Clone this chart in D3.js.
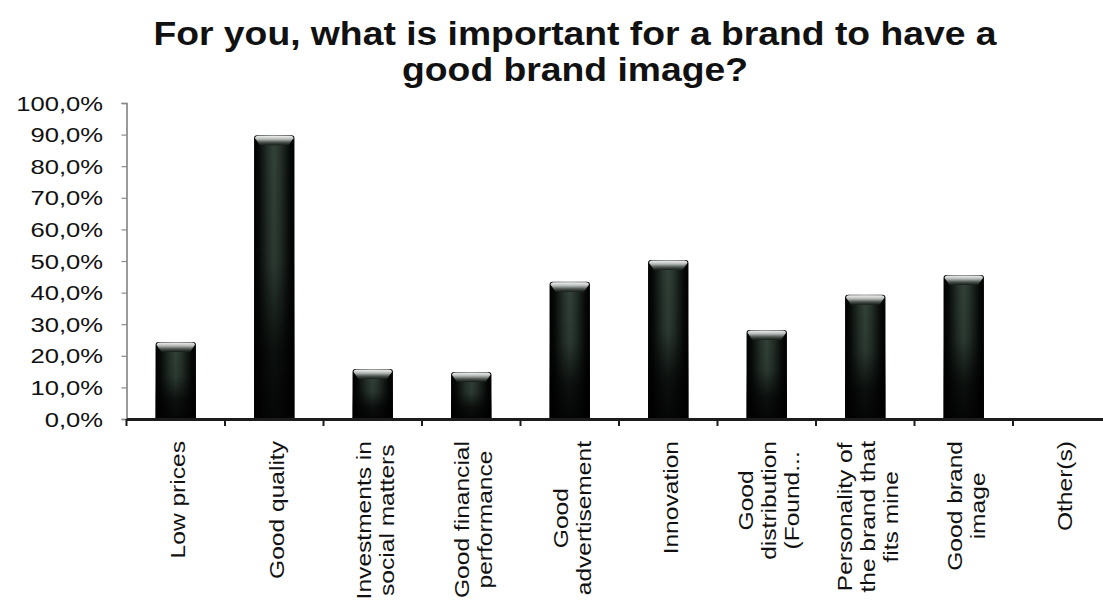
<!DOCTYPE html>
<html>
<head>
<meta charset="utf-8">
<script src="https://cdn.jsdelivr.net/npm/d3@7"></script>
<style>
  html, body { margin: 0; padding: 0; background: #fff; }
  svg { display: block; }
  text { font-family: "Liberation Sans", Arial, sans-serif; fill: #111; }
</style>
</head>
<body>
<svg id="chart" width="1103" height="613"></svg>
<script>
// Survey answers: share of respondents naming each item
const categories = [
  "Low prices", "Good quality", "Investments in social matters",
  "Good financial performance", "Good advertisement", "Innovation",
  "Good distribution (Found...", "Personality of the brand that fits mine",
  "Good brand image", "Other(s)"
];
const labelLines = [
  ["Low prices"], ["Good quality"], ["Investments in", "social matters"],
  ["Good financial", "performance"], ["Good", "advertisement"], ["Innovation"],
  ["Good", "distribution", "(Found..."], ["Personality of", "the brand that", "fits mine"],
  ["Good brand", "image"], ["Other(s)"]
];
const values = [24.4, 89.8, 15.8, 14.9, 43.4, 50.3, 28.2, 39.3, 45.6, 0];
const yTicks = [0, 10, 20, 30, 40, 50, 60, 70, 80, 90, 100];
const titleLines = ["For you, what is important for a brand to have a", "good brand image?"];

const svg = d3.select("#chart");
const plot = { left: 126.5, right: 1111.5, top: 103, bottom: 419 };

const x = d3.scaleBand()
  .domain(categories)
  .range([plot.left, plot.right])
  .paddingInner(0.59)
  .paddingOuter(0.295);

const y = d3.scaleLinear().domain([0, 100]).range([plot.bottom, plot.top]);

// Gradients for the shaded column look
const defs = svg.append("defs");
const body = defs.append("linearGradient").attr("id", "barBody")
  .attr("x1", "0").attr("x2", "1").attr("y1", "0").attr("y2", "0");
[["0%", "#000"], ["12%", "#070a08"], ["35%", "#26322b"], ["50%", "#33433a"],
 ["65%", "#26322b"], ["88%", "#070a08"], ["100%", "#000"]]
  .forEach(([o, c]) => body.append("stop").attr("offset", o).attr("stop-color", c));

const shade = defs.append("linearGradient").attr("id", "barShade")
  .attr("x1", "0").attr("x2", "0").attr("y1", "0").attr("y2", "1");
[["0%", "#000", 0], ["45%", "#000", 0.15], ["75%", "#000", 0.75], ["100%", "#000", 0.9]]
  .forEach(([o, c, a]) => shade.append("stop").attr("offset", o)
    .attr("stop-color", c).attr("stop-opacity", a));

const cap = defs.append("linearGradient").attr("id", "barCap")
  .attr("x1", "0").attr("x2", "0").attr("y1", "0").attr("y2", "1");
[["0%", "#f2f2f2"], ["35%", "#b8bcb9"], ["70%", "#4a524d"], ["100%", "#151a17"]]
  .forEach(([o, c]) => cap.append("stop").attr("offset", o).attr("stop-color", c));

// Title
svg.append("g").selectAll("text")
  .data(titleLines)
  .join("text")
  .attr("transform", (d, i) => `translate(575, ${45 + i * 36}) scale(1.13, 1)`)
  .attr("text-anchor", "middle")
  .attr("font-size", 33)
  .attr("font-weight", "bold")
  .text(d => d);

// Y axis
const yAxis = svg.append("g")
  .attr("transform", `translate(${plot.left}, 0)`)
  .call(d3.axisLeft(y).tickValues(yTicks).tickSize(5).tickFormat(() => ""));
yAxis.select(".domain").attr("stroke", "#7a7a7a").attr("stroke-width", 1.5);
yAxis.selectAll(".tick line").attr("stroke", "#8a8a8a").attr("stroke-width", 1.2);

svg.append("g").selectAll("g")
  .data(yTicks)
  .join("g")
  .attr("transform", d => `translate(103, ${y(d)}) scale(1.22, 1)`)
  .append("text")
  .attr("text-anchor", "end")
  .attr("dy", "0.36em")
  .attr("font-size", 21)
  .attr("fill", "#222")
  .text(d => d3.format(".1f")(d).replace(".", ",") + "%");

// Bars
const bars = svg.append("g").selectAll("g")
  .data(categories.map((c, i) => ({ c, v: values[i] })).filter(d => d.v > 0))
  .join("g");

bars.append("path")
  .attr("d", d => {
    const x0 = x(d.c), w = x.bandwidth(), y0 = y(d.v), yb = y(0), r = 3;
    return `M${x0},${yb} L${x0},${y0 + r} Q${x0},${y0} ${x0 + r},${y0} L${x0 + w - r},${y0} Q${x0 + w},${y0} ${x0 + w},${y0 + r} L${x0 + w},${yb} Z`;
  })
  .attr("fill", "url(#barBody)");

bars.append("rect")
  .attr("x", d => x(d.c))
  .attr("y", d => y(d.v))
  .attr("width", x.bandwidth())
  .attr("height", d => y(0) - y(d.v))
  .attr("fill", "url(#barShade)");

bars.append("path")
  .attr("d", d => {
    const x0 = x(d.c), w = x.bandwidth(), y0 = y(d.v), r = 3;
    return `M${x0 + 1},${y0 + r} Q${x0 + 1},${y0 + 0.5} ${x0 + r + 1},${y0 + 0.5} L${x0 + w - r - 1},${y0 + 0.5} Q${x0 + w - 1},${y0 + 0.5} ${x0 + w - 1},${y0 + r} L${x0 + w - 6},${y0 + 10} L${x0 + 6},${y0 + 10} Z`;
  })
  .attr("fill", "url(#barCap)");

// X axis
const xAxis = svg.append("g")
  .attr("transform", `translate(0, ${plot.bottom})`)
  .call(d3.axisBottom(x).tickSize(0).tickFormat(() => ""));
xAxis.select(".domain").attr("stroke", "#1c1c1c").attr("stroke-width", 3);

const step = x.step();
svg.append("g").selectAll("line")
  .data(d3.range(categories.length + 1))
  .join("line")
  .attr("x1", i => plot.left + i * step)
  .attr("x2", i => plot.left + i * step)
  .attr("y1", plot.bottom)
  .attr("y2", plot.bottom + 7)
  .attr("stroke", "#1c1c1c")
  .attr("stroke-width", 2);

// Rotated category labels, lines centred on each other and hung from the axis
const labelTop = 441, lineGap = 23, stretch = 1.17;
const labelGroups = svg.append("g").selectAll("g")
  .data(categories.map((c, i) => ({ c, lines: labelLines[i] })))
  .join("g");

labelGroups.each(function (d) {
  const g = d3.select(this);
  const cx = x(d.c) + x.bandwidth() / 2 + 2;
  const texts = g.selectAll("text")
    .data(d.lines)
    .join("text")
    .attr("font-size", 21)
    .attr("fill", "#1a1a1a")
    .attr("text-anchor", "middle")
    .attr("dy", "0.36em")
    .attr("y", (t, i) => (i - (d.lines.length - 1) / 2) * lineGap)
    .text(t => t);
  const maxLen = d3.max(texts.nodes(), n => n.getComputedTextLength()) * stretch;
  g.attr("transform", `translate(${cx}, ${labelTop + maxLen / 2}) rotate(-90) scale(${stretch}, 1)`);
});
</script>
</body>
</html>
